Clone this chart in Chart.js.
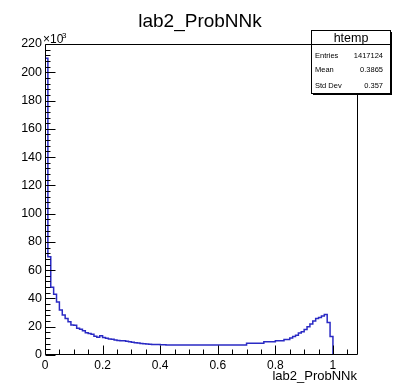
<!DOCTYPE html>
<html>
<head>
<meta charset="utf-8">
<script src="https://cdn.jsdelivr.net/npm/chart.js@4.4.0/dist/chart.umd.min.js"></script>
<style>
  html, body { margin: 0; padding: 0; background: #fff; }
  #wrap { width: 397px; height: 390px; position: relative; }
</style>
</head>
<body>
<div id="wrap"><canvas id="c" width="397" height="390"></canvas></div>
<script>
// Histogram of lab2_ProbNNk, bin contents in units of 10^3 entries
const histTitle = 'lab2_ProbNNk';
const xAxisTitle = 'lab2_ProbNNk';
const statsTitle = 'htemp';
const statsLabels = ['Entries', 'Mean', 'Std Dev'];
const statsValues = ['1417124', '0.3865', '0.357'];

const binWidth = 0.01;
const counts = [
  210, 69.5, 48, 43, 37.5, 31.8, 28.3, 25.9, 23.6, 21.2,
  21.0, 18.9, 18.2, 17.2, 15.8, 15.2, 14.6, 13.2, 12.6, 13.6,
  12.4, 11.8, 11.4, 11.1, 10.6, 10.3, 10.1, 10.1, 9.8, 9.4,
  9.0, 8.7, 8.5, 8.2, 8.0, 7.8, 7.6, 7.5, 7.5, 7.4,
  7.3, 7.2, 7.1, 7.1, 7.1, 7.1, 7.1, 7.1, 7.1, 7.1,
  7.1, 7.1, 7.1, 7.1, 7.1, 7.1, 7.1, 7.1, 7.1, 7.1,
  7.1, 7.1, 7.1, 7.1, 7.1, 7.1, 7.1, 7.1, 7.1, 7.1,
  8.3, 8.3, 8.3, 8.3, 8.3, 8.3, 9.4, 9.4, 9.4, 9.4,
  10.0, 10.0, 10.0, 11.0, 11.0, 12.0, 13.0, 14.0, 15.5, 16.5,
  18.0, 20.0, 22.0, 24.0, 25.8, 26.5, 27.6, 28.6, 23.0, 13.0
];

const xRange = [0, 1.087];
const yRange = [0, 220];
const xLabelTicks = [0, 0.2, 0.4, 0.6, 0.8, 1];
const yLabelTicks = [0, 20, 40, 60, 80, 100, 120, 140, 160, 180, 200, 220];
const xMinorStep = 0.05;
const yMinorStep = 4;

const FONT = "'Liberation Sans', Arial, Helvetica, sans-serif";

// step outline: each point opens its bin, the last point closes the final bin at zero
const points = [{ x: 0, y: 0 }];
counts.forEach((c, i) => points.push({ x: +(i * binWidth).toFixed(4), y: c }));
points.push({ x: +(counts.length * binWidth).toFixed(4), y: 0 });

function tickList(lo, hi, step) {
  const out = [];
  for (let k = 0; lo + k * step <= hi + 1e-9; k++) out.push(+(lo + k * step).toFixed(4));
  return out;
}
const isLabelled = (list, v) => list.some(t => Math.abs(t - v) < 1e-6);

// ROOT-style frame with inward major/minor ticks, drawn over the histogram
const frameTicks = {
  id: 'frameTicks',
  afterDatasetsDraw(chart) {
    const { ctx, chartArea: a, scales } = chart;
    const L = Math.round(a.left) + 0.5, R = Math.round(a.right) - 0.5;
    const T = Math.round(a.top) + 0.5, B = Math.round(a.bottom) - 0.5;
    ctx.save();
    ctx.strokeStyle = '#000';
    ctx.lineWidth = 1;
    ctx.beginPath();
    ctx.rect(L, T, R - L, B - T);
    scales.x.ticks.forEach(t => {
      const px = Math.round(scales.x.getPixelForValue(t.value)) + 0.5;
      const len = isLabelled(xLabelTicks, t.value) ? 9 : 5;
      ctx.moveTo(px, B); ctx.lineTo(px, B - len);
    });
    scales.y.ticks.forEach(t => {
      const py = Math.round(scales.y.getPixelForValue(t.value)) + 0.5;
      const len = isLabelled(yLabelTicks, t.value) ? 10 : 5;
      ctx.moveTo(L, py); ctx.lineTo(L + len, py);
    });
    ctx.stroke();
    ctx.restore();
  },
  afterDraw(chart) {
    const { ctx, chartArea: a } = chart;
    ctx.save();
    ctx.fillStyle = '#000';
    ctx.textBaseline = 'alphabetic';

    // histogram title
    ctx.font = `19px ${FONT}`;
    ctx.textAlign = 'center';
    ctx.fillText(histTitle, 200, 27);

    // exponent of the y axis
    ctx.textAlign = 'left';
    ctx.font = `12px ${FONT}`;
    ctx.fillText('\u00d710', a.left - 2, a.top - 1);
    ctx.font = `8px ${FONT}`;
    ctx.fillText('3', a.left + 17, a.top - 6);

    // x axis title
    ctx.font = `13px ${FONT}`;
    ctx.textAlign = 'right';
    ctx.fillText(xAxisTitle, a.right - 1, 380);

    // statistics box with shadow
    const bx = 311.5, by = 30.5, bw = 79, bh = 63;
    ctx.fillStyle = '#000';
    ctx.fillRect(bx + 1.5, by + 1.5, bw, bh);
    ctx.fillStyle = '#fff';
    ctx.fillRect(bx, by, bw, bh);
    ctx.strokeStyle = '#000';
    ctx.lineWidth = 1;
    ctx.strokeRect(bx, by, bw, bh);
    ctx.beginPath();
    ctx.moveTo(bx, 44.5); ctx.lineTo(bx + bw, 44.5);
    ctx.stroke();

    ctx.fillStyle = '#000';
    ctx.font = `12.5px ${FONT}`;
    ctx.textAlign = 'center';
    ctx.fillText(statsTitle, bx + bw / 2, 41.5);

    ctx.font = `7.5px ${FONT}`;
    const rowY = [57.5, 71.5, 88];
    statsLabels.forEach((lab, i) => {
      ctx.textAlign = 'left';
      ctx.fillText(lab, 315, rowY[i]);
      ctx.textAlign = 'right';
      ctx.fillText(statsValues[i], 383, rowY[i]);
    });
    ctx.restore();
  }
};

new Chart(document.getElementById('c'), {
  type: 'line',
  data: {
    datasets: [{
      data: points,
      stepped: 'before',
      borderColor: '#2a2ac4',
      borderWidth: 1.5,
      pointRadius: 0,
      fill: false
    }]
  },
  options: {
    responsive: false,
    animation: false,
    events: [],
    layout: { padding: { top: 44, right: 39, left: 0, bottom: 0 } },
    plugins: { legend: { display: false }, tooltip: { enabled: false }, title: { display: false } },
    scales: {
      x: {
        type: 'linear',
        min: xRange[0],
        max: xRange[1],
        afterBuildTicks: s => { s.ticks = tickList(xRange[0], xRange[1], xMinorStep).map(v => ({ value: v })); },
        afterFit: s => { s.height = 35; },
        grid: { display: false, drawTicks: false },
        border: { display: false },
        ticks: {
          autoSkip: false,
          maxRotation: 0,
          padding: 3,
          color: '#000',
          font: { family: FONT, size: 12 },
          callback: v => isLabelled(xLabelTicks, v) ? String(+v.toFixed(1)) : ''
        }
      },
      y: {
        type: 'linear',
        min: yRange[0],
        max: yRange[1],
        afterBuildTicks: s => { s.ticks = tickList(yRange[0], yRange[1], yMinorStep).map(v => ({ value: v })); },
        afterFit: s => { s.width = 45; },
        grid: { display: false, drawTicks: false },
        border: { display: false },
        ticks: {
          autoSkip: false,
          padding: 3,
          color: '#000',
          font: { family: FONT, size: 12.5 },
          callback: v => isLabelled(yLabelTicks, v) ? String(v) : ''
        }
      }
    }
  },
  plugins: [frameTicks]
});
</script>
</body>
</html>
